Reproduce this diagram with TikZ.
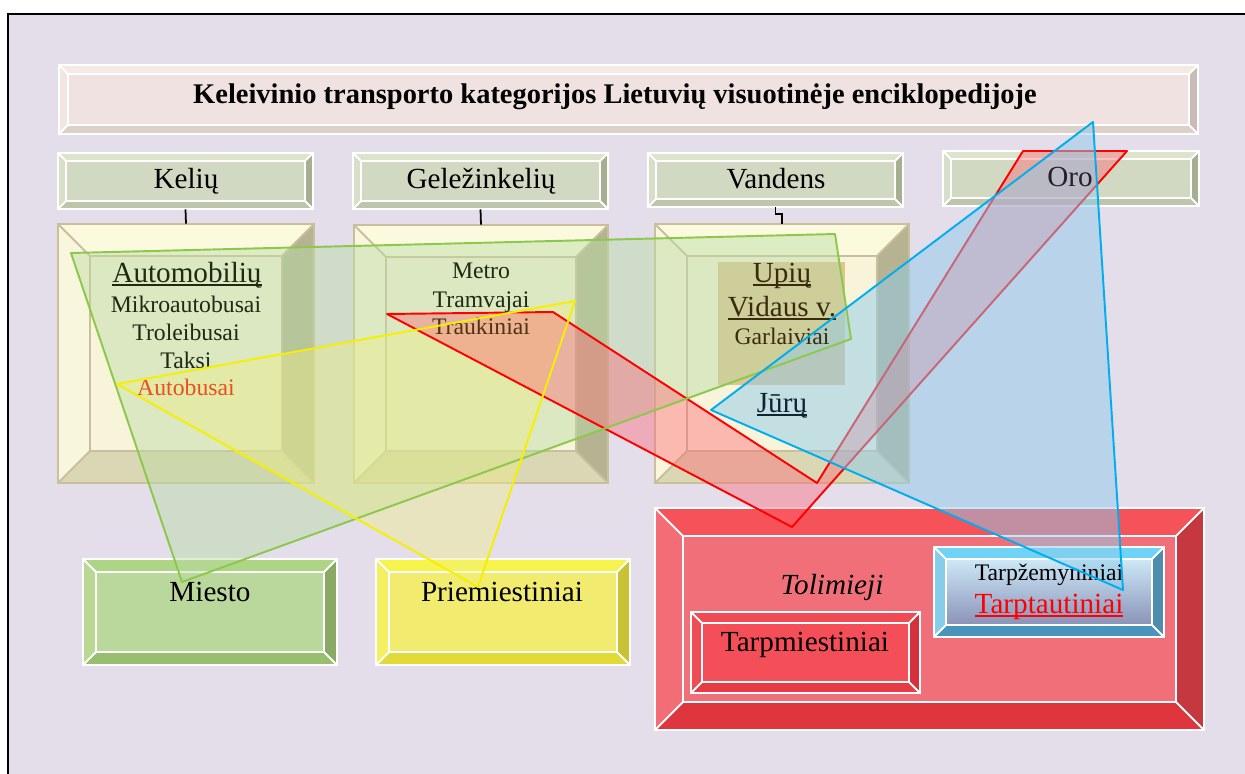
\documentclass[tikz,border=0pt]{standalone}
\usepackage{fontspec}
\setmainfont{Liberation Serif}
\usetikzlibrary{fit}

\definecolor{bgcol}{HTML}{E3DEEA}
% bevel colours: face, top, left, right, bottom, edge
\definecolor{ttlface}{HTML}{F0E2E0}\definecolor{ttltop}{HTML}{F4E9E3}\definecolor{ttlleft}{HTML}{F2E6E2}
\definecolor{ttlright}{HTML}{C9BCB5}\definecolor{ttlbottom}{HTML}{DCD0C8}\definecolor{ttledge}{HTML}{FFFFFF}
\definecolor{hdrface}{HTML}{D2D9C3}\definecolor{hdrtop}{HTML}{DDE3CD}\definecolor{hdrleft}{HTML}{D8DFC9}
\definecolor{hdrright}{HTML}{A7AF91}\definecolor{hdrbottom}{HTML}{BDC5AA}\definecolor{hdredge}{HTML}{FFFFFF}
\definecolor{bigface}{HTML}{F7F4DA}\definecolor{bigtop}{HTML}{FBFADF}\definecolor{bigleft}{HTML}{F8F6DC}
\definecolor{bigright}{HTML}{B5B392}\definecolor{bigbottom}{HTML}{DAD7B4}\definecolor{bigedge}{HTML}{CABF9C}
\definecolor{mieface}{HTML}{BBD89C}\definecolor{mietop}{HTML}{AED586}\definecolor{mieleft}{HTML}{B8D893}
\definecolor{mieright}{HTML}{8AA866}\definecolor{miebottom}{HTML}{97BF6F}\definecolor{mieedge}{HTML}{FFFFFF}
\definecolor{priface}{HTML}{F1EC70}\definecolor{pritop}{HTML}{F8F44E}\definecolor{prileft}{HTML}{F5F062}
\definecolor{priright}{HTML}{C9C232}\definecolor{pribottom}{HTML}{E1DA38}\definecolor{priedge}{HTML}{FFFFFF}
\definecolor{tolface}{HTML}{F06F78}\definecolor{toltop}{HTML}{F5525A}\definecolor{tolleft}{HTML}{F36D76}
\definecolor{tolright}{HTML}{C5383F}\definecolor{tolbottom}{HTML}{DF363E}\definecolor{toledge}{HTML}{FFFFFF}
\definecolor{tmiface}{HTML}{F44F58}\definecolor{tmitop}{HTML}{F14A52}\definecolor{tmileft}{HTML}{EF4C55}
\definecolor{tmiright}{HTML}{D5313A}\definecolor{tmibottom}{HTML}{E73A42}\definecolor{tmiedge}{HTML}{FFFFFF}
\definecolor{tptface}{HTML}{A8C0DC}\definecolor{tpttop}{HTML}{6ED3F4}\definecolor{tptleft}{HTML}{86CDEA}
\definecolor{tptright}{HTML}{4E8DAE}\definecolor{tptbottom}{HTML}{4A93BB}\definecolor{tptedge}{HTML}{FFFFFF}
\definecolor{tptgradA}{HTML}{CDE9F7}\definecolor{tptgradB}{HTML}{8A92B8}
\definecolor{tanbox}{HTML}{DCC591}
\definecolor{autored}{HTML}{E8501E}
\definecolor{brn}{HTML}{3B2B0E}
\definecolor{drkgrn}{HTML}{1F2A12}
\definecolor{trkbrn}{HTML}{4B3515}
\definecolor{navy}{HTML}{0B2535}
\definecolor{orotxt}{HTML}{25202E}
\definecolor{yellowgreen}{HTML}{8CC84B}\definecolor{greenfill}{HTML}{BBDBA4}
\definecolor{yellowline}{HTML}{F5F000}\definecolor{yellowfill}{HTML}{F0ED81}
\definecolor{redfill}{HTML}{FF6070}
\definecolor{blueline}{HTML}{00AEEF}\definecolor{bluefill}{HTML}{91CCEA}

% bevelled box: name, top-left, bottom-right, bevel width, colour scheme
\newcommand{\bevelbox}[5]{%
  \coordinate (bbA) at (#2);
  \coordinate (bbB) at (#3);
  \path (bbA) ++(#4,#4) coordinate (bbC);
  \path (bbB) ++(-#4,-#4) coordinate (bbD);
  \fill[#5top] (bbA) -- (bbA -| bbB) -- (bbC -| bbD) -- (bbC) -- cycle;
  \fill[#5left] (bbA) -- (bbC) -- (bbC |- bbD) -- (bbA |- bbB) -- cycle;
  \fill[#5right] (bbA -| bbB) -- (bbB) -- (bbD) -- (bbC -| bbD) -- cycle;
  \fill[#5bottom] (bbA |- bbB) -- (bbB) -- (bbD) -- (bbC |- bbD) -- cycle;
  \fill[#5face] (bbC) rectangle (bbD);
  \draw[#5edge, line width=1.1pt] (bbA) rectangle (bbB) (bbC) rectangle (bbD)
    (bbA) -- (bbC) (bbA -| bbB) -- (bbC -| bbD) (bbB) -- (bbD) (bbA |- bbB) -- (bbC |- bbD);
  \node[fit=(bbA)(bbB), inner sep=0pt] (#1) {};
}

% thicker underline
\newsavebox{\ulbox}
\newcommand{\ulin}[1]{\sbox{\ulbox}{#1}\rlap{\rule[-2.4pt]{\wd\ulbox}{1pt}}\usebox{\ulbox}}

\tikzset{
  lbl/.style={font=\fontsize{16.6}{19}\selectfont, inner sep=0pt, anchor=base},
  sml/.style={lbl, font=\fontsize{13.5}{16}\selectfont},
  link/.style={black, line width=1pt},
  zoneline/.style={line width=1.1pt, line join=round}
}

\begin{document}
\begin{tikzpicture}[x=0.02cm,y=-0.02cm]
\useasboundingbox (0,0) rectangle (1245,774);
\draw[black, line width=1.2pt, fill=bgcol] (8,14) rectangle (1270,800);

% title and the four kinds
\bevelbox{ttl}{59,65}{1198,134}{9}{ttl}
\bevelbox{kel}{58,153}{313,209}{8}{hdr}
\bevelbox{gel}{353,153}{608,209}{8}{hdr}
\bevelbox{van}{648,153}{903,207}{8}{hdr}
\bevelbox{oro}{943,151}{1199,206}{8}{hdr}

% boxes under the kinds
\bevelbox{autobox}{58,224}{314,483}{32}{big}
\bevelbox{gelbox}{354,225}{608,483}{32}{big}
\bevelbox{vanbox}{655,224}{909,483}{32}{big}
\fill[tanbox] (718,262) rectangle (845,385);

\draw[link] (kel.south) -- (autobox.north);
\draw[link] (gel.south) -- (gelbox.north);
\draw[link] (van.south) -- ++(0,7) -| (vanbox.north);

% lower level
\bevelbox{mie}{83,559}{337,665}{13}{mie}
\bevelbox{pri}{376,559}{630,665}{13}{pri}
\bevelbox{tol}{655,508}{1204,730}{28}{tol}
\bevelbox{tmi}{691,612}{920,693}{11}{tmi}
\bevelbox{tpt}{934,547}{1164,637}{12}{tpt}
\shade[top color=tptgradA, bottom color=tptgradB] (bbC) rectangle (bbD);
\draw[white, line width=1.1pt] (bbC) rectangle (bbD);

% see-through zones
\coordinate (g1) at (71,253);  \coordinate (g2) at (835,234);
\coordinate (g3) at (851,339); \coordinate (g4) at (182,582);
\coordinate (y1) at (117,384); \coordinate (y2) at (575,301); \coordinate (y3) at (478,587);
\coordinate (r1) at (387,314); \coordinate (r2) at (553,312); \coordinate (r3) at (817,483);
\coordinate (r4) at (1023,151); \coordinate (r5) at (1127,151); \coordinate (r6) at (792,527);
\coordinate (b1) at (1093,122); \coordinate (b2) at (711,410); \coordinate (b3) at (1123,590);

\fill[greenfill, fill opacity=0.45] (g1) -- (g2) -- (g3) -- (g4) -- cycle;
\fill[yellowfill, fill opacity=0.4] (y1) -- (y2) -- (y3) -- cycle;
\fill[redfill, fill opacity=0.4] (r1) -- (r2) -- (r3) -- (r4) -- (r5) -- (r6) -- cycle;
\draw[zoneline, red] (r1) -- (r2) -- (r3) -- (r4) -- (r5) -- (r6) -- cycle;
\fill[bluefill, fill opacity=0.5] (b1) -- (b2) -- (b3) -- cycle;

% texts
\node[lbl, font=\bfseries\fontsize{16.2}{19}\selectfont] (ttlt) at (615,103)
  {Keleivinio transporto kategorijos Lietuvių visuotinėje enciklopedijoje};
\node[lbl] (kelt) at (186,188) {Kelių};
\node[lbl] (gelt) at (481,188) {Geležinkelių};
\node[lbl] (vant) at (776,188) {Vandens};
\node[lbl, text=orotxt] (orot) at (1070,186) {Oro};

\node[lbl, text=drkgrn] (automob) at (187,282) {\ulin{Automobilių}};
\node[sml, text=drkgrn] (mikro) at (186,312) {Mikroautobusai};
\node[sml, text=drkgrn] (trol) at (186,340) {Troleibusai};
\node[sml, text=drkgrn] (taksi) at (186,368) {Taksi};
\node[sml, text=autored] (autob) at (186,395) {Autobusai};

\node[sml, text=drkgrn] (metro) at (481,278) {Metro};
\node[sml, text=drkgrn] (tramv) at (481,307) {Tramvajai};
\node[sml, text=trkbrn] (trauk) at (481,334) {Traukiniai};

\node[lbl, text=brn] (upiu) at (782,282) {\ulin{Upių}};
\node[lbl, text=brn] (vidaus) at (782,316) {\ulin{Vidaus v.}};
\node[sml, text=brn] (garl) at (782,344) {Garlaiviai};
\node[lbl, text=navy] (juru) at (782,412) {\ulin{Jūrų}};

\node[lbl] (miet) at (210,601) {Miesto};
\node[lbl] (prit) at (502,601) {Priemiestiniai};
\node[lbl, font=\itshape\fontsize{16.6}{19}\selectfont] (tolt) at (832,594) {Tolimieji};
\node[lbl] (tmit) at (805,651) {Tarpmiestiniai};
\node[sml] (tzt) at (1049,580) {Tarpžemyniniai};
\node[lbl, text=red] (tptt) at (1049,613) {\ulin{Tarptautiniai}};

% zone outlines
\draw[zoneline, yellowgreen] (g1) -- (g2) -- (g3) -- (g4) -- cycle;
\draw[zoneline, yellowline] (y1) -- (y2) -- (y3) -- cycle;
\draw[zoneline, blueline] (b1) -- (b2) -- (b3) -- cycle;
\end{tikzpicture}
\end{document}
